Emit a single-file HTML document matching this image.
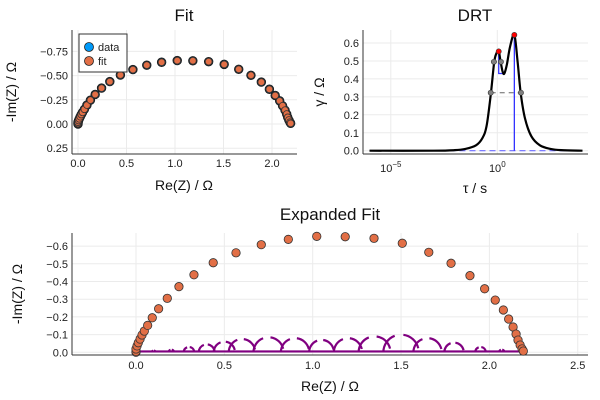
<!DOCTYPE html>
<html><head><meta charset="utf-8"><style>
html,body{margin:0;padding:0;background:#fff;}
svg{display:block;font-family:"Liberation Sans","DejaVu Sans",sans-serif;}
</style></head><body>
<svg id="s" width="600" height="400" viewBox="0 0 600 400" xmlns="http://www.w3.org/2000/svg"></svg>
<script>
// ---- data ----
const fitRe = [0,0,0,0.006,0.013,0.023,0.034,0.047,0.066,0.092,0.128,0.177,0.243,0.328,0.437,0.566,0.709,0.862,1.023,1.184,1.347,1.507,1.657,1.783,1.890,1.973,2.033,2.079,2.109,2.134,2.151,2.162,2.174,2.185,2.192];
const fitNegIm = [0,0.005,0.019,0.036,0.054,0.075,0.098,0.120,0.152,0.195,0.246,0.305,0.371,0.438,0.506,0.562,0.608,0.638,0.655,0.653,0.644,0.616,0.565,0.503,0.433,0.359,0.295,0.239,0.188,0.143,0.103,0.069,0.041,0.019,0.007];
const drtLogTau = [-6,-3,-2,-1.5,-1,-0.7,-0.5,-0.3,-0.15,-0.05,0.066,0.15,0.25,0.33,0.45,0.6,0.8,0.95,1.1,1.3,1.6,2,2.5,3,4];
const drtGamma = [0,0,0.003,0.01,0.03,0.07,0.14,0.32,0.49,0.54,0.553,0.50,0.44,0.43,0.48,0.58,0.645,0.50,0.32,0.18,0.08,0.03,0.01,0.003,0];
const peakLogTau = [0.066,0.8];
const peakGamma = [0.553,0.645];
const halfLogTau = [-0.16,0.17,-0.31,1.11];
const halfGamma = [0.495,0.495,0.323,0.323];
const arcRe = [0.1,0.2,0.3,0.4,0.5,0.6,0.75,0.9,1.05,1.2,1.35,1.5,1.65,1.8,1.95,2.07];
const arcH = [0.01,0.015,0.03,0.045,0.06,0.075,0.085,0.08,0.07,0.08,0.09,0.1,0.08,0.055,0.03,0.015];
const fitXTicks = [0,0.5,1,1.5,2];
const fitYTicks = [-0.75,-0.5,-0.25,0,0.25];
const drtYTicks = [0,0.1,0.2,0.3,0.4,0.5,0.6];
const drtXTicks = [-5,0];
const expXTicks = [0,0.5,1,1.5,2,2.5];
const expYTicks = [-0.6,-0.5,-0.4,-0.3,-0.2,-0.1,0];

const S = document.getElementById('s');
const NS = 'http://www.w3.org/2000/svg';
function mk(tag, attrs, parent, txt){const e=document.createElementNS(NS,tag);for(const k in attrs)e.setAttribute(k,attrs[k]);if(txt!==undefined)e.textContent=txt;(parent||S).appendChild(e);return e;}
function fmt(v,d){const s=Math.abs(v).toFixed(d);return (v<0?'\u2212':'')+s;}
function smooth(pts){let s='M'+pts[0][0].toFixed(2)+','+pts[0][1].toFixed(2);
  for(let i=0;i<pts.length-1;i++){const p0=pts[Math.max(i-1,0)],p1=pts[i],p2=pts[i+1],p3=pts[Math.min(i+2,pts.length-1)];
    const c1=[p1[0]+(p2[0]-p0[0])/6,p1[1]+(p2[1]-p0[1])/6],c2=[p2[0]-(p3[0]-p1[0])/6,p2[1]-(p3[1]-p1[1])/6];
    s+=` C${c1[0].toFixed(2)},${c1[1].toFixed(2)} ${c2[0].toFixed(2)},${c2[1].toFixed(2)} ${p2[0].toFixed(2)},${p2[1].toFixed(2)}`;}
  return s;}

// ---- Fit panel ----
const f = {l:72,r:297,t:30,b:154};
const fx = v => 78 + 97*v;
const fy = v => 124 + 96.8*v;
const gFit = mk('g',{});  
fitXTicks.forEach(t=>{mk('line',{x1:fx(t),x2:fx(t),y1:f.t,y2:f.b,stroke:'#ebebeb','stroke-width':1},gFit);
  const tx=mk('text',{x:fx(t),y:f.b+13,'font-size':11,'text-anchor':'middle',fill:'#222'},gFit,t.toFixed(1));});
fitYTicks.forEach(t=>{mk('line',{x1:f.l,x2:f.r,y1:fy(t),y2:fy(t),stroke:'#ebebeb','stroke-width':1},gFit);
  const tx=mk('text',{x:f.l-4,y:fy(t)+4,'font-size':11,'text-anchor':'end',fill:'#222'},gFit,fmt(t,2));});
mk('line',{x1:f.l,x2:f.l,y1:f.t,y2:f.b,stroke:'#333','stroke-width':1},gFit);
mk('line',{x1:f.l,x2:f.r,y1:f.b,y2:f.b,stroke:'#333','stroke-width':1},gFit);
fitRe.forEach((x,i)=>{const c=mk('circle',{cx:fx(x),cy:fy(-fitNegIm[i]),r:4.2,fill:'#009af9',stroke:'#1a1a1a','stroke-width':1},gFit);});
fitRe.forEach((x,i)=>{const c=mk('circle',{cx:fx(x),cy:fy(-fitNegIm[i]),r:3.4,fill:'#e26f46',stroke:'#333','stroke-width':0.8},gFit);});
let t1=mk('text',{x:184,y:21,'font-size':17,'text-anchor':'middle',fill:'#111'},gFit,'Fit');
let t2=mk('text',{x:184,y:190,'font-size':14,'text-anchor':'middle',fill:'#111'},gFit,'Re(Z) / Ω');
let t3=mk('text',{x:16,y:92,'font-size':14,'text-anchor':'middle',fill:'#111',transform:'rotate(-90 16 92)'},gFit,'-Im(Z) / Ω');
const lg=mk('g',{},gFit);
mk('rect',{x:79,y:34,width:48,height:38,fill:'#fff',stroke:'#333','stroke-width':1},lg);
mk('circle',{cx:89,cy:47,r:4.5,fill:'#009af9',stroke:'#222','stroke-width':0.8},lg);
mk('circle',{cx:89,cy:61,r:4.5,fill:'#e26f46',stroke:'#222','stroke-width':0.8},lg);
let l1=mk('text',{x:98,y:51,'font-size':11,fill:'#222'},lg,'data');
let l2=mk('text',{x:98,y:65,'font-size':11,fill:'#222'},lg,'fit');

// ---- DRT panel ----
const d = {l:363,r:588,t:30,b:154};
const dx = v => 497.3 + 21.3*v;
const dy = v => 150.7 - 179.5*v;
const gD = mk('g',{});  
drtXTicks.forEach(t=>{mk('line',{x1:dx(t),x2:dx(t),y1:d.t,y2:d.b,stroke:'#ebebeb'},gD);
  const tx=mk('text',{x:dx(t),y:d.b+18,'font-size':11,'text-anchor':'middle',fill:'#222'},gD);
  
  mk('tspan',{},tx,'10');
  mk('tspan',{dy:-5,'font-size':8},tx,t===0?'0':'\u22125');});
drtYTicks.forEach(t=>{mk('line',{x1:d.l,x2:d.r,y1:dy(t),y2:dy(t),stroke:'#ebebeb'},gD);
  const tx=mk('text',{x:d.l-4,y:dy(t)+4,'font-size':11,'text-anchor':'end',fill:'#222'},gD,t.toFixed(1));});
mk('line',{x1:d.l,x2:d.l,y1:d.t,y2:d.b,stroke:'#333'},gD);
mk('line',{x1:d.l,x2:d.r,y1:d.b,y2:d.b,stroke:'#333'},gD);
mk('line',{x1:dx(drtLogTau[0]),x2:dx(drtLogTau[drtLogTau.length-1]),y1:dy(0),y2:dy(0),stroke:'#6b6bff','stroke-width':1.2,'stroke-dasharray':'6,4'},gD);
mk('line',{x1:dx(halfLogTau[2]),x2:dx(halfLogTau[3]),y1:dy(halfGamma[2]),y2:dy(halfGamma[3]),stroke:'#666','stroke-width':1,'stroke-dasharray':'5,4'},gD);
mk('line',{x1:dx(halfLogTau[0]),x2:dx(halfLogTau[1]),y1:dy(halfGamma[0]),y2:dy(halfGamma[1]),stroke:'#666','stroke-width':1,'stroke-dasharray':'3,2'},gD);
mk('polyline',{points:`${dx(peakLogTau[0])},${dy(peakGamma[0])} ${dx(peakLogTau[0])},${dy(0.43)} ${dx(0.33)},${dy(0.43)}`,fill:'none',stroke:'#3333ff','stroke-width':1.3},gD);
mk('line',{x1:dx(peakLogTau[1]),x2:dx(peakLogTau[1]),y1:dy(peakGamma[1]),y2:dy(0),stroke:'#3333ff','stroke-width':1.3},gD);
const cp=mk('path',{d:smooth(drtLogTau.map((v,i)=>[dx(v),dy(drtGamma[i])])),fill:'none',stroke:'#000','stroke-width':2.2,'stroke-linejoin':'round'},gD);

halfLogTau.forEach((v,i)=>{const c=mk('circle',{cx:dx(v),cy:dy(halfGamma[i]),r:2.6,fill:'#808080',stroke:'#333','stroke-width':0.6},gD);});
peakLogTau.forEach((v,i)=>{const c=mk('circle',{cx:dx(v),cy:dy(peakGamma[i]),r:2.6,fill:'#ff0000',stroke:'#333','stroke-width':0.6},gD);});
let d1=mk('text',{x:475,y:21,'font-size':17,'text-anchor':'middle',fill:'#111'},gD,'DRT');
let d2=mk('text',{x:475,y:193,'font-size':14,'text-anchor':'middle',fill:'#111'},gD,'τ / s');
let d3=mk('text',{x:324,y:92,'font-size':14,'text-anchor':'middle',fill:'#111',transform:'rotate(-90 324 92)'},gD,'γ / Ω');

// ---- Expanded panel ----
const e = {l:72,r:588,t:233,b:355};
const ex = v => 136 + 176.7*v;
const ey = v => 352.3 + 177*v;
const gE = mk('g',{});  
expXTicks.forEach(t=>{mk('line',{x1:ex(t),x2:ex(t),y1:e.t,y2:e.b,stroke:'#ebebeb'},gE);
  const tx=mk('text',{x:ex(t),y:e.b+14,'font-size':11,'text-anchor':'middle',fill:'#222'},gE,t.toFixed(1));});
expYTicks.forEach(t=>{mk('line',{x1:e.l,x2:e.r,y1:ey(t),y2:ey(t),stroke:'#ebebeb'},gE);
  const tx=mk('text',{x:e.l-4,y:ey(t)+4,'font-size':11,'text-anchor':'end',fill:'#222'},gE,t===0?'0.0':fmt(t,1));});
mk('line',{x1:e.l,x2:e.l,y1:e.t,y2:e.b,stroke:'#333'},gE);
mk('line',{x1:e.l,x2:e.r,y1:e.b,y2:e.b,stroke:'#333'},gE);
mk('line',{x1:ex(0),x2:ex(2.2),y1:ey(-0.005),y2:ey(-0.005),stroke:'#800080','stroke-width':2.2},gE);
arcRe.forEach((x,i)=>{const r=arcH[i]*177;const cx=ex(x),cy=ey(0);
  const a=mk('path',{d:`M${cx-r},${cy} A${r},${r} 0 0 1 ${cx+r},${cy}`,fill:'none',stroke:'#800080','stroke-width':2.2,'stroke-dasharray':`${r*1.2},${r*0.5}`},gE);
  });
fitRe.forEach((x,i)=>{const c=mk('circle',{cx:ex(x),cy:ey(-fitNegIm[i]),r:4.2,fill:'#e26f46',stroke:'#333','stroke-width':0.8},gE);});
let e1=mk('text',{x:330,y:220,'font-size':17,'text-anchor':'middle',fill:'#111'},gE,'Expanded Fit');
let e2=mk('text',{x:330,y:391,'font-size':14,'text-anchor':'middle',fill:'#111'},gE,'Re(Z) / Ω');
let e3=mk('text',{x:22,y:294,'font-size':14,'text-anchor':'middle',fill:'#111',transform:'rotate(-90 22 294)'},gE,'-Im(Z) / Ω');
</script>
</body></html>
